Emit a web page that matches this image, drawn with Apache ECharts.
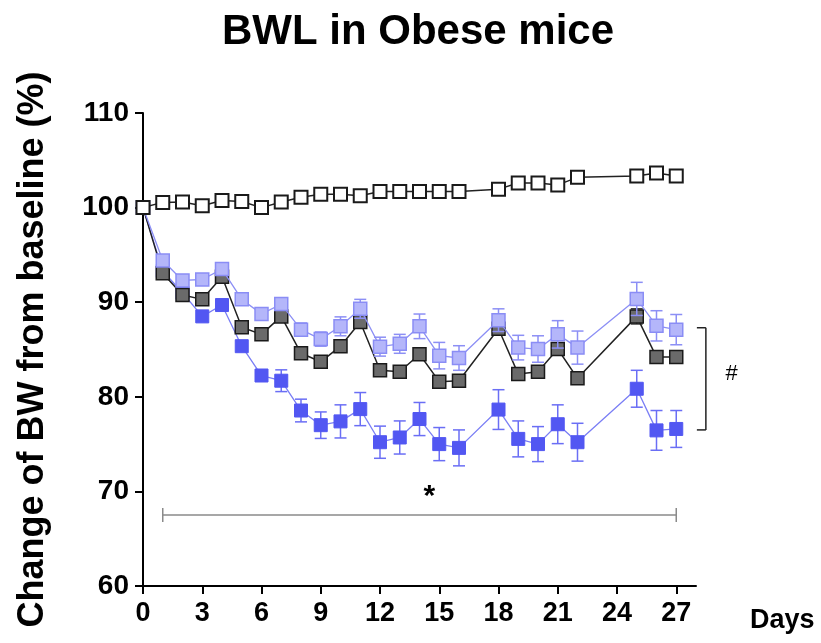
<!DOCTYPE html>
<html>
<head>
<meta charset="utf-8">
<script src="https://cdn.jsdelivr.net/npm/echarts@6/dist/echarts.min.js"></script>
<style>html,body{margin:0;padding:0;background:#fff;}#c{width:821px;height:643px;}</style>
</head>
<body>
<div id="c"></div>
<script>
const days = [0,1,2,3,4,5,6,7,8,9,10,11,12,13,14,15,16,18,19,20,21,22,25,26,27];
const xTicks = [0,3,6,9,12,15,18,21,24,27];
const yTicks = [60,70,80,90,100,110];

const control    = [100,100.55,100.6,100.2,100.75,100.65,100,100.6,101.1,101.4,101.4,101.25,101.7,101.7,101.7,101.7,101.7,101.95,102.6,102.6,102.4,103.2,103.35,103.65,103.35];
const controlErr = [0,0.2,0.2,0.2,0.2,0.2,0.2,0.2,0.2,0.2,0.2,0.2,0.2,0.2,0.2,0.2,0.2,0.2,0.2,0.2,0.2,0.2,0.2,0.2,0.2];
const light      = [100,94.4,92.3,92.4,93.5,90.3,88.75,89.8,87.1,86.1,87.45,89.3,85.3,85.6,87.45,84.35,84.1,88.1,85.2,85.05,86.6,85.2,90.35,87.5,87.1];
const lightErr   = [0,0.4,0.4,0.4,0.5,0.5,0.6,0.6,0.7,0.75,1.0,1.0,1.0,1.0,1.3,1.4,1.3,1.2,1.3,1.4,1.45,1.75,1.75,1.6,1.6];
const dark       = [100,93.05,90.75,90.3,92.7,87.35,86.6,88.5,84.6,83.7,85.35,87.9,82.8,82.65,84.5,81.6,81.7,87.2,82.4,82.65,85.05,81.95,88.5,84.2,84.2];
const darkErr    = [0,0.4,0.4,0.4,0.5,0.5,0.5,0.5,0.5,0.5,0.5,0.5,0.5,0.5,0.5,0.5,0.5,0.6,0.5,0.5,0.5,0.5,0.8,0.6,0.6];
const blue       = [100,93.3,91,88.5,89.7,85.35,82.25,81.7,78.55,77.0,77.4,78.7,75.2,75.7,77.65,75.0,74.6,78.65,75.55,75.0,77.1,75.2,80.85,76.45,76.6];
const blueErr    = [0,0.4,0.4,0.5,0.5,0.5,0.6,1.15,1.2,1.4,1.75,1.75,1.7,1.75,1.75,1.75,1.9,2.1,1.9,1.85,2.05,2.0,1.95,2.1,1.95];

// annotations (data units)
const starBracket = [1, 27, 67.5];        // from day, to day, level
const starLabel   = [14.5, 69.4, '*'];
const hashBracket = [28.5, 76.5, 87.3];   // x, low, high
const hashLabel   = [29.8, 82.4, '#'];

const FONT = '"Liberation Sans", Arial, sans-serif';

function pairs(vals){ return days.map((d,i)=>[d, vals[i]]); }
function errData(vals, errs){ return days.map((d,i)=>[d, vals[i], errs[i]]); }

function errSeries(vals, errs, color, z){
  return {
    type:'custom', z:z, silent:true,
    data: errData(vals, errs),
    renderItem: function(params, api){
      const x = api.value(0), y = api.value(1), e = api.value(2);
      if (!e) return;
      const top = api.coord([x, y+e]);
      const bot = api.coord([x, y-e]);
      const w = 6;
      const style = {stroke: color, lineWidth: 1.5};
      return {type:'group', children:[
        {type:'line', shape:{x1:top[0],y1:top[1],x2:bot[0],y2:bot[1]}, style:style},
        {type:'line', shape:{x1:top[0]-w,y1:top[1],x2:top[0]+w,y2:top[1]}, style:style},
        {type:'line', shape:{x1:bot[0]-w,y1:bot[1],x2:bot[0]+w,y2:bot[1]}, style:style}
      ]};
    }
  };
}

function lineSeries(vals, lineColor, lineWidth, fill, border, borderW, z){
  return {
    type:'line', z:z, data: pairs(vals), symbol:'rect', symbolSize:13,
    lineStyle:{color:lineColor, width:lineWidth},
    itemStyle:{color:fill, borderColor:border, borderWidth:borderW, opacity:1},
    emphasis:{disabled:true}, animation:false
  };
}

const chart = echarts.init(document.getElementById('c'), null, {renderer:'canvas'});
chart.setOption({
  animation:false,
  backgroundColor:'#fff',
  title:{
    text:'BWL in Obese mice', left:217, top:6,
    textStyle:{fontFamily:FONT, fontWeight:'bold', fontSize:42, color:'#000'}
  },
  grid:{left:143, right:125, top:113, bottom:57},
  xAxis:{
    type:'value', min:0, max:28,
    name:'Days', nameLocation:'end', nameGap:54,
    nameTextStyle:{fontFamily:FONT, fontWeight:'bold', fontSize:27, color:'#000', verticalAlign:'top', padding:[21,0,0,0]},
    axisLine:{show:true, onZero:false, lineStyle:{color:'#000', width:2}},
    axisTick:{show:true, length:8, customValues:xTicks, lineStyle:{color:'#000', width:2}},
    axisLabel:{customValues:xTicks, margin:14, fontFamily:FONT, fontWeight:'bold', fontSize:27, color:'#000'},
    splitLine:{show:false}
  },
  yAxis:{
    type:'value', min:60, max:110, interval:10,
    name:'Change of BW from baseline (%)', nameLocation:'middle', nameGap:92,
    nameTextStyle:{fontFamily:FONT, fontWeight:'bold', fontSize:36, color:'#000'},
    axisLine:{show:true, onZero:false, lineStyle:{color:'#000', width:2}},
    axisTick:{show:true, length:8, lineStyle:{color:'#000', width:2}},
    axisLabel:{margin:14, fontFamily:FONT, fontWeight:'bold', fontSize:28, color:'#000'},
    splitLine:{show:false}
  },
  series:[
    errSeries(blue, blueErr, '#6a6ef5', 2),
    lineSeries(blue, '#7a7ef5', 1.3, '#5257f2', '#5257f2', 1, 3),
    errSeries(dark, darkErr, '#333', 4),
    lineSeries(dark, '#222', 1.5, '#6a6a6a', '#1a1a1a', 1.5, 5),
    errSeries(light, lightErr, '#8c8ff5', 6),
    lineSeries(light, '#8c8ff5', 1.3, '#b4b6fa', '#8a8df5', 1.5, 7),
    errSeries(control, controlErr, '#222', 8),
    lineSeries(control, '#222', 1.5, '#fff', '#1a1a1a', 2, 9),
    {
      type:'custom', z:10, silent:true, clip:false,
      data:[starBracket],
      renderItem:function(params, api){
        const a = api.coord([api.value(0), api.value(2)]);
        const b = api.coord([api.value(1), api.value(2)]);
        const st = {stroke:'#8a8a8a', lineWidth:1.5};
        return {type:'group', children:[
          {type:'line', shape:{x1:a[0],y1:a[1],x2:b[0],y2:b[1]}, style:st},
          {type:'line', shape:{x1:a[0],y1:a[1]-7,x2:a[0],y2:a[1]+7}, style:st},
          {type:'line', shape:{x1:b[0],y1:b[1]-7,x2:b[0],y2:b[1]+7}, style:st}
        ]};
      }
    },
    {
      type:'custom', z:10, silent:true, clip:false,
      data:[hashBracket],
      renderItem:function(params, api){
        const lo = api.coord([api.value(0), api.value(1)]);
        const hi = api.coord([api.value(0), api.value(2)]);
        const st = {stroke:'#222', lineWidth:1.5};
        return {type:'group', children:[
          {type:'line', shape:{x1:lo[0],y1:lo[1],x2:hi[0],y2:hi[1]}, style:st},
          {type:'line', shape:{x1:hi[0]-9,y1:hi[1],x2:hi[0],y2:hi[1]}, style:st},
          {type:'line', shape:{x1:lo[0]-9,y1:lo[1],x2:lo[0],y2:lo[1]}, style:st}
        ]};
      }
    },
    {
      type:'custom', z:10, silent:true, clip:false,
      data:[starLabel, hashLabel],
      renderItem:function(params, api){
        const p = api.coord([api.value(0), api.value(1)]);
        const isStar = params.dataIndex === 0;
        return {type:'text', x:p[0], y:p[1], style:{
          text: isStar ? starLabel[2] : hashLabel[2],
          fontFamily:FONT, fontWeight: isStar ? 'bold':'normal',
          fontSize: isStar ? 30 : 22, fill:'#000', align:'center', verticalAlign:'middle'
        }};
      }
    }
  ]
});
</script>
</body>
</html>
